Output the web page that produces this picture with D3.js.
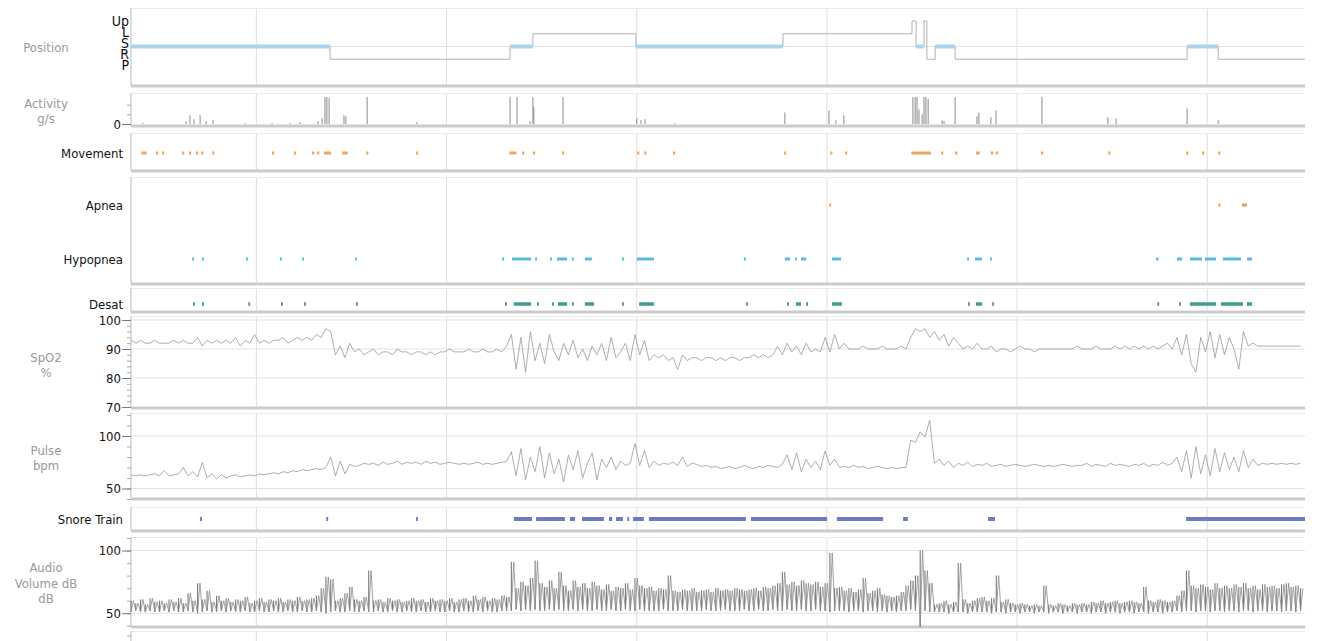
<!DOCTYPE html>
<html>
<head>
<meta charset="utf-8">
<script src="https://cdn.jsdelivr.net/npm/d3@7"></script>
<style>
  body { margin: 0; background: #fff; }
  svg { display: block; font-family: "DejaVu Sans Condensed", "DejaVu Sans", sans-serif; }
</style>
</head>
<body>
<svg id="chart" width="1317" height="641"></svg>
<script>
// recording window (minutes from start)
const startTime = new Date(2021, 0, 1, 23, 20, 36);
const recordMinutes = 370.4;
const sampleStep = 1.5; // minutes between SpO2 / pulse / audio samples

// body position: [minute the position starts, position]
const positionLevels = ['Up', 'L', 'S', 'R', 'P'];
const positionChanges = [
  [0, 'S'], [62.8, 'R'], [119.6, 'S'], [126.8, 'L'], [159.3, 'S'], [205.7, 'L'],
  [246.4, 'Up'], [247.7, 'S'], [250.2, 'Up'], [251.1, 'R'], [253.7, 'S'], [260, 'R'],
  [333.2, 'S'], [343, 'R']
];

// activity spikes: [minute, g/s]
const activity = [
  [3.8, 0.1], [17.4, 0.3], [18.6, 0.9], [19.9, 0.5], [21.8, 0.9], [23.7, 0.3], [25.9, 0.4],
  [36, 0.1], [44.5, 0.1], [50.2, 0.1], [53.3, 0.2], [59, 0.3], [60.3, 0.6],
  [61.2, 2.8], [61.8, 2.8], [62.5, 2.7], [67.2, 0.9], [67.8, 0.8], [74.5, 2.8], [90.2, 0.2],
  [119.6, 2.8], [121.8, 2.8], [125.9, 0.3], [126.8, 2.8], [127.1, 1.8], [136.3, 2.8],
  [159.6, 0.6], [160.9, 0.4], [162.2, 0.5], [171.6, 0.1], [206.3, 1.2],
  [220.2, 1.4], [222.4, 0.4], [224.9, 0.9],
  [246.7, 2.8], [247.4, 2.8], [248, 2.8], [248.6, 1.5], [249.6, 1.0], [250.2, 2.8], [250.8, 2.8], [251.5, 2.6],
  [255.9, 0.4], [256.5, 0.3], [260, 2.8], [266.9, 0.8], [267.5, 1.2], [271.3, 0.7], [272.9, 1.4],
  [287.4, 2.8], [308.2, 0.7], [310.8, 0.6], [333.2, 1.6], [343, 0.4]
];

// scored events: [start minute, end minute]
const movement = [
  [3.3, 4.9], [7.9, 8.6], [9.8, 10.5], [16.1, 16.8], [18.3, 19], [20.5, 21.2], [22.1, 22.8], [25.6, 26.3],
  [44.5, 45.2], [51.4, 52.1], [57.1, 57.8], [58.7, 59.4], [60.9, 63.1], [66.6, 68.4], [74.2, 74.9], [89.9, 90.6],
  [119.4, 121.6], [123.4, 124.1], [126.8, 127.5], [136, 136.7], [159.7, 160.4], [161.9, 162.6], [171, 171.7],
  [206, 206.7], [220.6, 221.3], [225.3, 226], [246.2, 252.4], [255.6, 256.3], [260, 260.7], [266.6, 267.8],
  [271.3, 272], [272.9, 273.6], [287.1, 287.8], [308.3, 309], [332.9, 333.6], [337.9, 338.6], [343, 343.7]
];
const apnea = [[220.3, 220.9], [343.1, 343.7], [350.5, 352.1]];
const hypopnea = [
  [19.3, 19.9], [22.4, 23], [36.3, 36.9], [47, 47.6], [54, 54.6], [70.7, 71.3],
  [117.1, 117.7], [120.2, 126.2], [127.5, 128.1], [132.2, 132.8], [134.4, 137.6], [139.1, 139.7],
  [143.2, 145.4], [154.9, 155.5], [159.6, 165], [193.4, 194], [206.3, 207.9], [209.5, 210.1],
  [211.4, 213], [221.2, 224], [263.8, 264.4], [266.3, 268.5], [271, 271.6], [323.4, 324.2],
  [330, 331.6], [334.1, 337.9], [338.8, 342.3], [344.5, 350.2], [352.1, 353.7]
];
const desat = [
  [19.6, 20.2], [22.4, 23], [37, 37.6], [47.3, 47.9], [54.6, 55.2], [71, 71.6],
  [118, 118.6], [120.8, 126.2], [128.1, 128.7], [132.8, 133.4], [134.7, 137.6], [139.1, 139.7],
  [143.2, 146.1], [154.9, 155.5], [160.3, 165], [194, 194.6], [207, 207.6], [209.8, 211.4],
  [213, 213.6], [221.2, 224.3], [264.1, 264.7], [266.6, 268.5], [271.7, 272.3], [323.8, 324.4],
  [330.7, 331.3], [334.1, 342.3], [343.9, 350.8], [352.1, 353.7]
];
const snoreTrain = [
  [21.8, 22.4], [61.6, 62.2], [89.9, 90.5], [120.8, 126.5], [127.8, 136.9], [138.5, 140.1],
  [142.3, 149.2], [150.8, 151.8], [153, 155.2], [156.6, 157.2], [158.4, 161.8], [163.4, 194],
  [195.6, 219.6], [222.7, 237.3], [243.6, 245.1], [270.4, 272.6], [332.9, 370.4]
];

// SpO2 %, one value every sampleStep minutes
const spo2 = [
  93,92,93,92,92,93,92,92,92,93, 92,93,92,92,94,91,93,92,93,92,
  93,92,94,91,93,92,95,92,93,92, 93,93,94,92,93,94,93,94,93,95,
  94,97,96,88,91,87,92,89,90,88, 89,90,88,89,89,88,90,89,89,88,
  89,89,88,89,88,89,89,90,89,89, 89,90,89,89,90,89,89,90,89,91,
  95,83,94,82,96,86,92,85,95,89, 86,92,88,93,87,90,86,91,88,92,
  86,94,87,89,92,86,95,88,93,86, 88,87,88,86,87,83,88,86,87,87,
  86,87,87,86,87,86,87,87,86,87, 87,88,87,88,87,88,91,88,92,89,
  91,88,92,89,90,89,94,89,95,90, 92,90,90,90,91,90,90,90,91,90,
  90,90,91,90,94,97,96,97,94,96, 93,95,91,94,92,90,91,90,92,90,
  90,91,89,90,90,89,90,91,90,90, 89,90,90,90,90,90,90,90,90,91,
  90,90,90,91,90,90,90,91,90,91, 90,91,90,91,90,91,90,91,92,90,
  94,88,95,85,82,94,89,96,87,95, 88,94,90,83,96,91,92,91,91,91,
  91,91,91,91,91,91,91
];

// pulse bpm
const pulse = [
  63,62,63,62,63,64,62,67,62,63, 64,70,62,66,61,75,60,64,59,63,
  60,62,63,61,62,63,62,64,63,64, 65,64,66,65,67,66,68,67,68,69,
  68,70,80,62,76,64,73,71,72,74, 73,74,72,75,73,74,76,73,75,74,
  75,73,76,74,75,73,74,75,74,73, 74,73,74,75,73,74,73,74,75,76,
  85,62,88,58,80,66,90,60,84,64, 78,56,82,68,86,60,74,84,58,78,
  70,80,68,76,72,74,93,72,86,70, 76,72,74,73,75,72,80,71,74,73,
  71,72,70,71,69,70,71,69,70,72, 70,69,71,70,72,71,70,73,82,68,
  84,66,78,70,76,68,86,72,78,70, 71,70,72,70,71,69,70,71,70,69,
  70,69,70,70,96,94,104,99,115,74, 78,72,76,70,74,72,75,71,73,72,
  74,71,72,73,71,72,73,72,71,72, 73,72,71,72,71,72,73,72,71,72,
  72,74,71,73,72,71,74,72,73,72, 71,73,72,74,71,73,72,75,72,74,
  80,66,86,60,90,64,82,62,88,66, 84,68,80,66,86,70,78,72,74,73,
  74,73,74,73,74,73,74
];

// audio volume dB: low and high envelope per sample
const audioLow = [
  51,52,51,51,52,51,51,52,51,52, 51,51,52,51,50,51,52,51,51,52,
  51,52,51,51,52,51,51,52,51,51, 52,51,51,52,51,51,52,51,51,52,
  51,50,51,52,51,51,52,51,51,52, 51,51,52,51,51,52,51,51,52,51,
  51,52,51,51,52,51,51,52,51,51, 52,51,51,52,51,52,51,51,52,52,
  52,53,52,53,52,53,52,52,53,52, 53,52,52,53,52,53,52,52,53,52,
  52,53,52,52,53,52,52,53,52,52, 52,52,53,52,52,52,53,52,52,52,
  52,53,52,52,52,53,52,52,52,53, 52,52,53,52,52,53,52,52,53,52,
  52,53,52,52,53,52,52,51,52,52, 52,51,52,52,51,52,52,51,52,51,
  52,51,52,52,53,52,39,52,51,51, 51,51,50,51,51,51,50,51,51,51,
  51,50,51,51,50,51,51,50,51,51, 50,51,51,50,51,51,50,51,51,50,
  51,51,50,51,51,50,51,51,50,51, 51,50,51,51,50,51,51,50,51,51,
  52,51,52,52,51,52,52,51,52,52, 51,52,52,51,52,52,51,52,52,51,
  52,52,51,52,52,51,52
];
const audioHigh = [
  60,58,61,57,62,59,60,58,61,59, 62,58,66,60,74,61,68,59,64,60,
  62,59,61,60,63,58,60,62,59,61, 60,62,59,61,60,63,60,61,62,64,
  70,79,77,60,62,66,71,61,60,63, 84,60,61,59,62,60,61,59,60,62,
  60,61,59,62,60,61,60,62,59,61, 62,60,64,61,63,60,62,61,64,63,
  91,70,75,72,78,92,74,71,76,70, 83,72,68,76,71,74,70,75,72,69,
  73,68,71,70,74,69,78,72,70,71, 68,70,69,80,68,67,69,68,70,67,
  68,69,67,70,68,69,68,70,69,68, 69,70,68,71,70,72,74,83,73,75,
  72,76,74,73,75,71,74,98,70,71, 68,70,67,69,78,66,68,70,65,64,
  63,64,67,72,76,80,100,84,74,57, 58,60,57,59,90,61,58,60,62,63,
  60,62,80,59,61,58,57,58,57,56, 57,56,72,57,56,58,57,56,58,57,
  58,57,59,58,60,58,59,60,58,59, 60,59,58,71,60,59,61,60,59,60,
  64,68,84,72,70,73,71,69,74,70, 72,70,73,71,74,70,72,69,73,71,
  72,70,73,74,71,72,70
];

const svg = d3.select('#chart');
svg.append('rect').attr('width', 1317).attr('height', 641).attr('fill', '#fff');

const left = 131, right = 1305;
const minutesToDate = m => new Date(+startTime + m * 60000);
const x = d3.scaleTime()
  .domain([startTime, minutesToDate(recordMinutes)])
  .range([left, right]);
const xm = m => x(minutesToDate(m));
const sampleTimes = d3.range(spo2.length).map(i => i * sampleStep);

// panel top / bottom in pixels
const panels = {
  position: [8, 86],
  activity: [93, 126],
  movement: [133, 171],
  events: [177, 284],
  desat: [288, 312],
  spo2: [316, 408],
  pulse: [413, 499],
  snore: [507, 531],
  audio: [537, 627],
  next: [631, 700]
};

function drawFrame([top, bottom], withBottom = true) {
  const g = svg.append('g');
  // hourly grid
  g.append('g')
    .attr('transform', `translate(0,${bottom})`)
    .call(d3.axisBottom(x).ticks(d3.timeHour.every(1)).tickSize(-(bottom - top)).tickFormat(''))
    .call(a => a.select('.domain').remove())
    .call(a => a.selectAll('.tick line').attr('stroke', '#dedede'));
  g.append('line')
    .attr('x1', left).attr('x2', right).attr('y1', top + 0.5).attr('y2', top + 0.5)
    .attr('stroke', '#ebebeb');
  g.append('line')
    .attr('x1', left).attr('x2', left).attr('y1', top).attr('y2', bottom)
    .attr('stroke', '#d0d0d0').attr('stroke-width', 1.5);
  if (withBottom) {
    g.append('line')
      .attr('x1', left).attr('x2', right).attr('y1', bottom).attr('y2', bottom)
      .attr('stroke', '#cbcbcb').attr('stroke-width', 3);
  }
  return g;
}

function sideLabel(lines, yCenter) {
  const t = svg.append('text')
    .attr('x', 46).attr('text-anchor', 'middle')
    .attr('fill', '#999').attr('font-size', 13);
  lines.forEach((s, i) => {
    t.append('tspan')
      .attr('x', 46)
      .attr('y', yCenter + (i - (lines.length - 1) / 2) * 15.5)
      .attr('dy', '0.35em')
      .text(s);
  });
}

function rowLabel(text, y) {
  svg.append('text')
    .attr('x', 123).attr('y', y).attr('dy', '0.35em')
    .attr('text-anchor', 'end').attr('font-size', 13).attr('fill', '#111')
    .text(text);
}

function yAxis(y, major, minor) {
  svg.append('g')
    .attr('transform', `translate(${left},0)`)
    .call(d3.axisLeft(y).tickValues(minor).tickSize(4).tickFormat(''))
    .call(a => a.select('.domain').remove())
    .call(a => a.selectAll('.tick line').attr('stroke', '#aaa'));
  svg.append('g')
    .attr('transform', `translate(${left},0)`)
    .call(d3.axisLeft(y).tickValues(major).tickSize(9).tickPadding(1).tickFormat(d3.format('d')))
    .call(a => a.select('.domain').remove())
    .call(a => a.selectAll('.tick line').attr('stroke', '#777'))
    .call(a => a.selectAll('.tick text').attr('font-size', 13)
      .attr('font-family', '"DejaVu Sans Condensed", "DejaVu Sans", sans-serif').attr('fill', '#111'));
}

function hGrid(y, values) {
  svg.append('g').selectAll('line').data(values).join('line')
    .attr('x1', left).attr('x2', right)
    .attr('y1', d => y(d)).attr('y2', d => y(d))
    .attr('stroke', '#e2e2e2');
}

function eventRow(data, yc, h, color) {
  svg.append('g').selectAll('rect').data(data).join('rect')
    .attr('x', d => xm(d[0]))
    .attr('width', d => Math.max(1.6, xm(d[1]) - xm(d[0])))
    .attr('y', yc - h / 2).attr('height', h)
    .attr('fill', color);
}

// ---------- Position ----------
drawFrame(panels.position);
const yPos = d3.scalePoint().domain(positionLevels).range([21, 72]);
const yPosLabel = d3.scalePoint().domain(positionLevels).range([21, 65]);
hGrid(v => yPos(v), ['S']);
const posPoints = positionChanges.concat([[recordMinutes, positionChanges[positionChanges.length - 1][1]]]);
svg.append('path')
  .datum(posPoints)
  .attr('fill', 'none').attr('stroke', '#b0b0b0').attr('stroke-width', 1)
  .attr('d', d3.line()
    .x(d => xm(d[0]))
    .y(d => yPos(d[1]))
    .curve(d3.curveStepAfter));
const supine = positionChanges
  .map((d, i) => [d[0], posPoints[i + 1][0], d[1]])
  .filter(d => d[2] === 'S');
svg.append('g').selectAll('line').data(supine).join('line')
  .attr('x1', d => xm(d[0])).attr('x2', d => xm(d[1]))
  .attr('y1', yPos('S')).attr('y2', yPos('S'))
  .attr('stroke', '#aad4ea').attr('stroke-width', 4);
svg.append('g').selectAll('text').data(positionLevels).join('text')
  .attr('x', 129).attr('y', d => yPosLabel(d)).attr('dy', '0.35em')
  .attr('text-anchor', 'end').attr('font-size', 14).attr('fill', '#111')
  .text(d => d);
sideLabel(['Position'], 47);

// ---------- Activity ----------
drawFrame(panels.activity);
const yAct = d3.scaleLinear().domain([0, 3]).range([124, 95]);
svg.append('g').selectAll('line').data(activity).join('line')
  .attr('x1', d => xm(d[0])).attr('x2', d => xm(d[0]))
  .attr('y1', yAct(0)).attr('y2', d => yAct(d[1]))
  .attr('stroke', '#8a8a8a').attr('stroke-width', 1);
yAxis(yAct, [0], [1, 2]);
sideLabel(['Activity', 'g/s'], 111);

// ---------- Movement ----------
drawFrame(panels.movement);
eventRow(movement, 153, 3, '#f1a461');
rowLabel('Movement', 153);

// ---------- Apnea / Hypopnea ----------
drawFrame(panels.events);
eventRow(apnea, 205, 3, '#eb9a58');
eventRow(hypopnea, 259, 3, '#5cb9de');
rowLabel('Apnea', 205);
rowLabel('Hypopnea', 259);

// ---------- Desat ----------
drawFrame(panels.desat);
eventRow(desat, 304, 3.5, '#3e9d8e');
rowLabel('Desat', 304);

// ---------- SpO2 ----------
drawFrame(panels.spo2);
const ySpo2 = d3.scaleLinear().domain([70, 100]).range([407, 320]);
hGrid(ySpo2, [80, 90, 100]);
svg.append('path')
  .datum(spo2)
  .attr('fill', 'none').attr('stroke', '#999').attr('stroke-width', 0.8)
  .attr('d', d3.line().x((d, i) => xm(sampleTimes[i])).y(d => ySpo2(d)));
yAxis(ySpo2, [70, 80, 90, 100], d3.range(70, 101, 2));
sideLabel(['SpO2', '%'], 365);

// ---------- Pulse ----------
drawFrame(panels.pulse);
const yPulse = d3.scaleLinear().domain([40, 120]).range([499, 415]);
hGrid(yPulse, [50, 100]);
svg.append('path')
  .datum(pulse)
  .attr('fill', 'none').attr('stroke', '#999').attr('stroke-width', 0.8)
  .attr('d', d3.line().x((d, i) => xm(sampleTimes[i])).y(d => yPulse(d)));
yAxis(yPulse, [50, 100], d3.range(40, 121, 10));
sideLabel(['Pulse', 'bpm'], 458);

// ---------- Snore Train ----------
drawFrame(panels.snore);
eventRow(snoreTrain, 519, 4, '#6b7bc4');
rowLabel('Snore Train', 519);

// ---------- Audio ----------
drawFrame(panels.audio);
const yAudio = d3.scaleLinear().domain([39, 110]).range([627, 538]);
hGrid(yAudio, [50, 100]);
// one vertical stroke per sample, low to high
svg.append('g').selectAll('line').data(audioLow).join('line')
  .attr('x1', (d, i) => xm(sampleTimes[i])).attr('x2', (d, i) => xm(sampleTimes[i]))
  .attr('y1', d => yAudio(d)).attr('y2', (d, i) => yAudio(audioHigh[i]))
  .attr('stroke', '#7a7a7a').attr('stroke-width', 1.1);
// and the zigzag between the envelopes
const audioPoints = [];
audioLow.forEach((v, i) => {
  audioPoints.push([sampleTimes[i], v]);
  audioPoints.push([sampleTimes[i] + sampleStep / 2, audioHigh[i]]);
});
svg.append('path')
  .datum(audioPoints)
  .attr('fill', 'none')
  .attr('stroke', '#8a8a8a').attr('stroke-width', 0.8)
  .attr('d', d3.line().x(d => xm(d[0])).y(d => yAudio(d[1])));
yAxis(yAudio, [50, 100], d3.range(40, 111, 10));
sideLabel(['Audio', 'Volume dB', 'dB'], 583);

// ---------- next panel (cut off) ----------
drawFrame(panels.next, false);
svg.append('line')
  .attr('x1', left - 4).attr('x2', left).attr('y1', 636).attr('y2', 636)
  .attr('stroke', '#aaa');
</script>
</body>
</html>
